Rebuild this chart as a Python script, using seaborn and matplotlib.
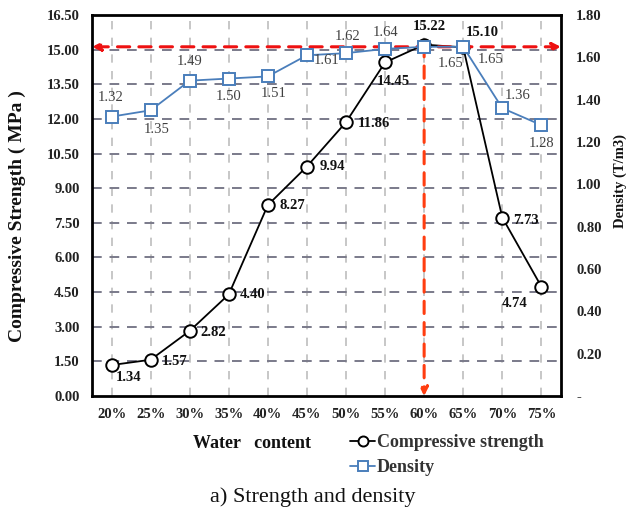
import numpy as np
import pandas as pd
import matplotlib
matplotlib.use("Agg")
import matplotlib.pyplot as plt
import seaborn as sns

# Water content levels and measured properties
water_content = ["20%", "25%", "30%", "35%", "40%", "45%", "50%", "55%", "60%", "65%", "70%", "75%"]
strength = [1.34, 1.57, 2.82, 4.40, 8.27, 9.94, 11.86, 14.45, 15.22, 15.10, 7.73, 4.74]
density = [1.32, 1.35, 1.49, 1.50, 1.51, 1.61, 1.62, 1.64, 1.65, 1.65, 1.36, 1.28]
left_ticks = [0.0, 1.5, 3.0, 4.5, 6.0, 7.5, 9.0, 10.5, 12.0, 13.5, 15.0, 16.5]
right_ticks = [0.0, 0.2, 0.4, 0.6, 0.8, 1.0, 1.2, 1.4, 1.6, 1.8]
optimum_idx = 8

sns.set_theme(style="white")
plt.rcParams["font.family"] = ["Liberation Serif", "DejaVu Serif"]

df = pd.DataFrame({"pos": np.arange(len(water_content)), "strength": strength, "density": density})

fig = plt.figure(figsize=(6.26, 5.19), dpi=100)
ax = fig.add_axes([0.147, 0.237, 0.749, 0.734])
ax2 = ax.twinx()

blue = "#4a7ebb"
sns.lineplot(data=df, x="pos", y="strength", ax=ax, color="black", lw=1.3,
             marker="o", markersize=9, markerfacecolor="white",
             markeredgecolor="black", markeredgewidth=1.4, zorder=5,
             label="Compressive strength", legend=False)
sns.lineplot(data=df, x="pos", y="density", ax=ax2, color=blue, lw=1.3,
             marker="s", markersize=9, markerfacecolor="white",
             markeredgecolor=blue, markeredgewidth=1.4, zorder=5,
             label="Density", legend=False)

ax.set_xlim(-0.5, len(water_content) - 0.5)
ax.set_ylim(0, 16.5)
ax2.set_ylim(0, 1.8)

ax.set_xticks(df["pos"])
ax.set_xticklabels(water_content)
ax.set_yticks(left_ticks)
ax.set_yticklabels([f"{v:.2f}" for v in left_ticks])
ax2.set_yticks(right_ticks)
ax2.set_yticklabels(["-" if v == 0 else f"{v:.2f}" for v in right_ticks])

for a in (ax, ax2):
    a.tick_params(length=0, labelsize=10.5)
    for lab in a.get_xticklabels() + a.get_yticklabels():
        lab.set_fontweight("bold")
        lab.set_color("#222222")
ax.tick_params(axis="y", pad=9)
ax.tick_params(axis="x", pad=9)
ax2.tick_params(axis="y", pad=11)

# Grid lines
for v in left_ticks[1:-1]:
    ax.axhline(v, color="#7a7a8a", lw=1.4, ls=(0, (5, 4)), zorder=1)
for p in df["pos"]:
    ax.axvline(p, color="#bdbdbd", lw=1.2, ls=(0, (5, 5)), zorder=0)

for s in ax.spines.values():
    s.set_linewidth(2.0)
    s.set_color("black")
for s in ax2.spines.values():
    s.set_visible(False)

ax.set_xlabel("")
ax.set_ylabel("")
ax2.set_ylabel("")
fig.text(17 / 626, 1 - 216 / 519, "Compressive Strength ( MPa )", rotation=90,
         ha="center", va="center", fontsize=14, fontweight="bold", color="#111111")
fig.text(620 / 626, 1 - 181 / 519, "Density (T/m3)", rotation=90,
         ha="center", va="center", fontsize=10.5, fontweight="bold", color="#111111")

# Reference arrows at the optimum
peak_density = density[optimum_idx]
ax2.annotate("", xy=(-0.5, peak_density), xytext=(len(water_content) - 0.5, peak_density),
             xycoords="data",
             arrowprops=dict(arrowstyle="<|-|>", color="#ee1111", lw=2.2, ls=(0, (4, 3)),
                             shrinkA=0, shrinkB=0, mutation_scale=12), zorder=3)
ax.annotate("", xy=(optimum_idx, 0), xytext=(optimum_idx, strength[optimum_idx]),
            arrowprops=dict(arrowstyle="-|>", color="#ff3d10", lw=2.2, ls=(0, (4, 3)),
                            shrinkA=0, shrinkB=0, mutation_scale=12), zorder=3)

# Value labels for strength (bold, black)
s_off = [(12, -9), (17, -1), (17, -1), (17, 0), (18, 0), (18, 0), (20, -1), (6, -14),
         (4, 13), (14, 11), (17, -2), (-19, -12)]
for i, (v, (dx, dy)) in enumerate(zip(strength, s_off)):
    ax.annotate(f"{v:.2f}", (i, v), xytext=(dx, dy), textcoords="offset points",
                ha="center", va="center", fontsize=10.5, fontweight="bold", color="#111111", zorder=6)

# Value labels for density
d_off = [(-1, 14), (4, -14), (0, 14), (0, -13), (4, -12), (14, -4), (1, 12), (0, 12),
         (19, -12), (20, -9), (11, 9), (0, -13)]
for i, (v, (dx, dy)) in enumerate(zip(density, d_off)):
    ax2.annotate(f"{v:.2f}", (i, v), xytext=(dx, dy), textcoords="offset points",
                 ha="center", va="center", fontsize=10.5, color="#404040", zorder=6)

# Axis title and legend beneath the chart
fig.text(252 / 626, 1 - 443 / 519, "Water   content", ha="center", va="center",
         fontsize=13, fontweight="bold", color="#111111")
h1, l1 = ax.get_legend_handles_labels()
h2, l2 = ax2.get_legend_handles_labels()
leg = fig.legend(h1 + h2, l1 + l2, loc="upper left", bbox_to_anchor=(350 / 626, 1 - 434 / 519),
                 frameon=False, handlelength=1.4, handletextpad=0.1, labelspacing=0.45,
                 prop={"weight": "bold", "size": 13}, borderaxespad=0, borderpad=0,
                 markerscale=0.8)
for t in leg.get_texts():
    t.set_color("#333333")

fig.text(0.5, 1 - 497 / 519, "a) Strength and density", ha="center", va="center",
         fontsize=16, color="#111111")

fig.savefig("out.png", dpi=100, facecolor="white")
